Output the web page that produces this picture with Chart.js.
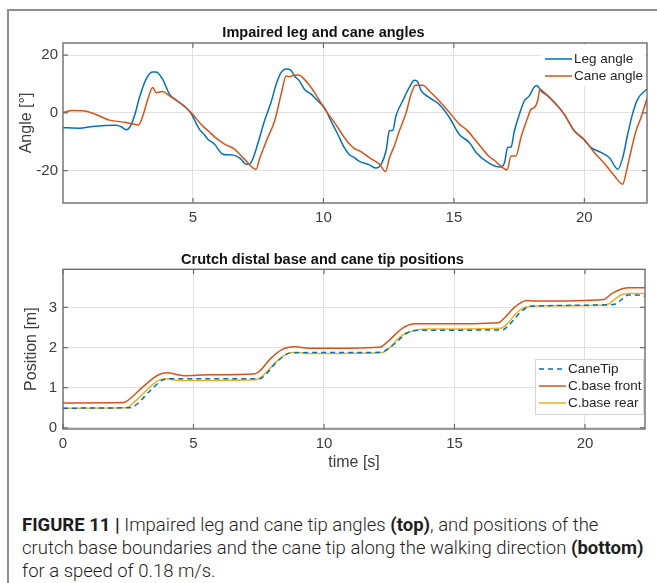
<!DOCTYPE html>
<html>
<head>
<meta charset="utf-8">
<script src="https://cdn.jsdelivr.net/npm/chart.js@4.4.1/dist/chart.umd.min.js"></script>
<style>
  body { margin: 0; background: #fff; }
  #page { position: relative; width: 657px; height: 583px; overflow: hidden; background: #fff; }
  #frame { position: absolute; left: 7px; top: 9px; width: 700px; height: 600px;
           border-top: 2px solid #8e8e8e; border-left: 2px solid #8e8e8e; }
  .wrap { position: absolute; left: 0; width: 657px; }
  #topWrap { top: 0; height: 232px; }
  #botWrap { top: 232px; height: 248px; }
  #caption { position: absolute; left: 22px; top: 514px; width: 640px;
             font-family: Roboto, "Liberation Sans", sans-serif; font-weight: 300;
             font-size: 18.5px; line-height: 23px; color: #1e1e1e; white-space: nowrap; }
  #caption b { font-weight: 700; }
</style>
</head>
<body>
<div id="page">
  <div id="frame"></div>
  <div class="wrap" id="topWrap"><canvas id="angleChart"></canvas></div>
  <div class="wrap" id="botWrap"><canvas id="posChart"></canvas></div>
  <div id="caption"><b>FIGURE 11 |</b> Impaired leg and cane tip angles <b>(top)</b>, and positions of the<br>crutch base boundaries and the cane tip along the walking direction <b>(bottom)</b><br>for a speed of 0.18 m/s.</div>
</div>
<script>
// ---- angles (deg) ----
const legTime = [0, 0.65, 1.16, 2.06, 2.25, 2.44, 2.59, 2.76, 2.95, 3.2, 3.44, 3.59, 3.84, 4.1, 4.36, 4.74, 4.93, 5.25, 5.44, 5.57,
  5.82, 6.14, 6.33, 6.65, 6.84, 7.04, 7.16, 7.29, 7.48, 7.74, 7.99, 8.19, 8.38, 8.57, 8.74, 8.89, 9.08, 9.27, 9.53, 9.78,
  10.04, 10.29, 10.55, 10.8, 11.0, 11.19, 11.38, 11.76, 12.02, 12.21, 12.4, 12.53, 12.66, 12.78, 13.04, 13.29, 13.49, 13.61, 13.74, 14.06,
  14.43, 14.83, 15.2, 15.6, 15.85, 16.36, 16.74, 16.81, 16.94, 17.06, 17.19, 17.32, 17.51, 17.7, 17.89, 18.08, 18.18, 18.34, 18.59, 18.98,
  19.23, 19.61, 19.93, 20.26, 20.64, 20.96, 21.28, 21.47, 21.66, 21.86, 22.04, 22.4];
const legAngle = [-5.1, -5.3, -4.7, -4.3, -4.8, -5.8, -4.8, -1.0, 5.3, 11.6, 14.2, 14.2, 11.6, 6.5, 4.4, 1.8, -0.2, -5.7, -7.6, -9.1,
  -10.8, -14.3, -14.5, -14.9, -16.0, -17.8, -17.8, -16.0, -10.8, -2.8, 3.6, 9.9, 14.0, 15.2, 14.9, 12.8, 11.1, 8.2, 6.5, 4.2,
  1.8, -2.8, -7.4, -12.0, -14.5, -15.5, -16.8, -18.0, -19.1, -17.8, -13.1, -6.2, -6.0, -1.0, 4.2, 8.8, 11.3, 10.8, 7.8, 5.3,
  3.0, -1.6, -7.4, -10.3, -13.7, -17.5, -18.7, -18.7, -17.2, -12.0, -11.8, -6.2, -0.5, 4.2, 5.9, 9.0, 9.5, 7.6, 5.9, 2.4,
  -0.5, -6.2, -8.8, -12.0, -13.7, -15.5, -19.5, -15.5, -7.4, 0.1, 4.7, 8.3];

const caneTime = [0, 0.4, 0.78, 1.16, 1.8, 2.44, 2.91, 3.08, 3.27, 3.46, 3.59, 3.84, 4.1, 4.48, 4.93, 5.25, 5.44, 5.63, 5.82, 6.21,
  6.6, 6.97, 7.42, 7.55, 7.87, 8.13, 8.38, 8.57, 8.7, 8.89, 9.08, 9.27, 9.53, 9.78, 10.1, 10.42, 10.8, 11.0, 11.19, 11.38,
  11.76, 12.15, 12.38, 12.53, 12.72, 12.91, 13.17, 13.36, 13.53, 13.81, 14.06, 14.43, 14.83, 15.21, 15.47, 15.85, 16.36, 16.55, 16.74, 17.04,
  17.19, 17.38, 17.57, 17.83, 17.96, 18.08, 18.21, 18.3, 18.47, 18.85, 19.23, 19.61, 19.99, 20.38, 20.77, 21.15, 21.47, 21.6, 21.79, 21.98,
  22.17, 22.4];
const caneAngle = [0.1, 0.8, 0.7, -0.1, -2.5, -3.3, -4.2, -1.0, 4.7, 8.8, 7.0, 7.4, 5.9, 3.6, 0.1, -3.3, -5.1, -6.6, -8.2, -10.8,
  -12.6, -16.0, -19.5, -16.0, -8.5, -2.8, 6.5, 12.8, 12.5, 13.1, 13.0, 11.6, 8.8, 5.3, 0.7, -3.3, -8.5, -10.8, -12.4, -13.1,
  -15.5, -17.8, -20.3, -15.5, -11.4, -6.2, 0.1, 6.5, 9.6, 9.6, 7.6, 4.2, 0.1, -3.9, -5.7, -9.7, -15.2, -16.4, -18.0, -19.7,
  -14.9, -14.9, -8.5, -1.6, 1.3, 1.8, 4.2, 8.2, 7.0, 3.6, -0.5, -6.2, -9.1, -13.7, -17.5, -21.8, -24.7, -20.6, -13.1, -6.2,
  -1.6, 5.0];

// ---- positions (m) ----
const tipTime = [0, 2.55, 2.77, 3.35, 3.78, 4.07, 7.53, 7.74, 8.25, 8.75, 12.14, 12.36, 12.72, 13.15, 13.58, 16.83, 17.04, 17.55, 17.91, 21.08, 21.3, 21.66, 21.95, 22.3];
const tipPos = [0.49, 0.5, 0.56, 0.93, 1.18, 1.22, 1.22, 1.31, 1.68, 1.87, 1.88, 1.93, 2.1, 2.35, 2.43, 2.44, 2.53, 2.89, 3.03, 3.07, 3.14, 3.31, 3.31, 3.28];

const frontTime = [0, 2.34, 2.48, 3.06, 3.63, 3.99, 4.36, 4.64, 5.65, 7.31, 7.53, 7.96, 8.39, 8.9, 9.4, 12.14, 12.43, 13.0, 13.51, 14.3, 16.68, 16.9, 17.33, 17.77, 18.05, 20.72, 21.04, 21.4, 21.7, 22.3];
const frontPos = [0.62, 0.63, 0.68, 1.02, 1.31, 1.37, 1.33, 1.3, 1.32, 1.34, 1.41, 1.73, 1.95, 2.02, 1.98, 2.01, 2.14, 2.48, 2.59, 2.59, 2.62, 2.73, 3.02, 3.17, 3.16, 3.2, 3.35, 3.46, 3.49, 3.49];

const rearTime = [0, 2.41, 2.62, 3.13, 3.63, 3.92, 4.5, 7.38, 7.6, 8.1, 8.54, 8.97, 9.4, 12.21, 12.43, 13.0, 13.51, 14.0, 16.76, 16.97, 17.48, 17.91, 18.63, 20.79, 20.94, 21.37, 21.66, 22.3];
const rearPos = [0.49, 0.5, 0.58, 0.89, 1.17, 1.22, 1.18, 1.2, 1.27, 1.6, 1.83, 1.88, 1.85, 1.87, 1.95, 2.31, 2.43, 2.46, 2.48, 2.56, 2.92, 3.03, 3.04, 3.06, 3.1, 3.31, 3.35, 3.35];

const angleTicksX = [5, 10, 15, 20];
const angleTicksY = [-20, 0, 20];
const posTicksX = [0, 5, 10, 15, 20];
const posTicksY = [0, 1, 2, 3];

const BLUE = '#0072BD', RED = '#D95319', YELLOW = '#EDB120';
const FONT = '"Liberation Sans", Arial, sans-serif';
const TEXT = '#3c3c3c';

function pts(xs, ys) {
  return xs.map((x, i) => ({ x: x, y: ys[i] }));
}

// boxed axes with inward ticks and a line-sample legend
const matlabAxes = {
  id: 'matlabAxes',
  afterDatasetsDraw(chart, args, opts) {
    const { ctx, chartArea: a, scales } = chart;
    ctx.save();
    ctx.strokeStyle = '#6e6e6e';
    ctx.lineWidth = 1.2;
    ctx.beginPath();
    scales.x.ticks.forEach(t => {
      const px = scales.x.getPixelForValue(t.value);
      ctx.moveTo(px, a.bottom); ctx.lineTo(px, a.bottom - 5);
      ctx.moveTo(px, a.top); ctx.lineTo(px, a.top + 5);
    });
    scales.y.ticks.forEach(t => {
      const py = scales.y.getPixelForValue(t.value);
      ctx.moveTo(a.left, py); ctx.lineTo(a.left + 5, py);
      ctx.moveTo(a.right, py); ctx.lineTo(a.right - 5, py);
    });
    ctx.stroke();
    ctx.lineWidth = 1.4;
    ctx.strokeRect(a.left, a.top, a.right - a.left, a.bottom - a.top);
    ctx.restore();
  },
  afterDraw(chart, args, opts) {
    const lg = opts.legend;
    if (!lg) return;
    const ctx = chart.ctx;
    ctx.save();
    ctx.fillStyle = '#fff';
    ctx.fillRect(lg.x, lg.y, lg.w, lg.h);
    if (lg.border) {
      ctx.strokeStyle = lg.border;
      ctx.lineWidth = 1;
      ctx.strokeRect(lg.x + 0.5, lg.y + 0.5, lg.w, lg.h);
    }
    ctx.font = '13.5px ' + FONT;
    ctx.textBaseline = 'middle';
    chart.data.datasets.forEach((ds, i) => {
      const y = lg.y + lg.first + i * lg.row;
      ctx.strokeStyle = ds.borderColor;
      ctx.lineWidth = 1.5;
      ctx.setLineDash(ds.borderDash || []);
      ctx.beginPath();
      ctx.moveTo(lg.x + lg.pad, y);
      ctx.lineTo(lg.x + lg.pad + 27, y);
      ctx.stroke();
      ctx.setLineDash([]);
      ctx.fillStyle = '#262626';
      ctx.fillText(ds.label, lg.x + lg.pad + 29, y);
    });
    ctx.restore();
  }
};

function axisOpts(min, max, ticks, title, fitW, fitH, titlePad, tickPad) {
  const o = {
    type: 'linear', min: min, max: max,
    afterBuildTicks: s => { s.ticks = ticks.map(v => ({ value: v })); },
    border: { display: false },
    grid: { color: '#e1e1e1', lineWidth: 1, drawTicks: false },
    ticks: { color: TEXT, font: { family: FONT, size: 15 }, padding: tickPad }
  };
  if (fitW) o.afterFit = s => { s.width = fitW; };
  if (fitH) o.afterFit = s => { s.height = fitH; };
  if (title) o.title = { display: true, text: title, color: TEXT, font: { family: FONT, size: 16 }, padding: titlePad };
  return o;
}

new Chart(document.getElementById('angleChart'), {
  type: 'line',
  data: {
    datasets: [
      { label: 'Leg angle', data: pts(legTime, legAngle), borderColor: BLUE, order: 1 },
      { label: 'Cane angle', data: pts(caneTime, caneAngle), borderColor: RED, order: 0 }
    ]
  },
  options: {
    responsive: true,
    maintainAspectRatio: false,
    animation: false,
    layout: { padding: { left: 0, right: 10, top: 0, bottom: 0 } },
    elements: {
      point: { radius: 0 },
      line: { borderWidth: 1.5, cubicInterpolationMode: 'monotone', fill: false }
    },
    scales: {
      x: axisOpts(0.02, 22.4, angleTicksX, null, null, 29, null, 6),
      y: axisOpts(-31.2, 24.2, angleTicksY, 'Angle [°]', 63, null, { top: 17, bottom: 0 }, 5)
    },
    plugins: {
      legend: { display: false },
      tooltip: { enabled: false },
      title: {
        display: true, text: 'Impaired leg and cane angles', color: '#111',
        font: { family: FONT, size: 14.5, weight: 'bold' }, padding: { top: 23.8, bottom: 1.8 }
      },
      matlabAxes: { legend: { x: 540, y: 44, w: 106, h: 42, pad: 5, first: 15, row: 17, border: null } }
    }
  },
  plugins: [matlabAxes]
});

new Chart(document.getElementById('posChart'), {
  type: 'line',
  data: {
    datasets: [
      { label: 'CaneTip', data: pts(tipTime, tipPos), borderColor: BLUE, borderDash: [5, 4] },
      { label: 'C.base front', data: pts(frontTime, frontPos), borderColor: RED },
      { label: 'C.base rear', data: pts(rearTime, rearPos), borderColor: YELLOW }
    ]
  },
  options: {
    responsive: true,
    maintainAspectRatio: false,
    animation: false,
    layout: { padding: { left: 0, right: 12, top: 0, bottom: 0 } },
    elements: {
      point: { radius: 0 },
      line: { borderWidth: 1.5, cubicInterpolationMode: 'monotone', fill: false }
    },
    scales: {
      x: axisOpts(0, 22.3, posTicksX, 'time [s]', null, 51, { top: 0, bottom: 8 }, 6),
      y: axisOpts(-0.03, 3.95, posTicksY, 'Position [m]', 63, null, { top: 22, bottom: 0 }, 6)
    },
    plugins: {
      legend: { display: false },
      tooltip: { enabled: false },
      title: {
        display: true, text: 'Crutch distal base and cane tip positions', color: '#111',
        font: { family: FONT, size: 14.5, weight: 'bold' }, padding: { top: 18.8, bottom: 1.1 }
      },
      matlabAxes: { legend: { x: 535, y: 127, w: 108, h: 55, pad: 4, first: 10, row: 17, border: '#d4d4d4' } }
    }
  },
  plugins: [matlabAxes]
});
</script>
</body>
</html>
